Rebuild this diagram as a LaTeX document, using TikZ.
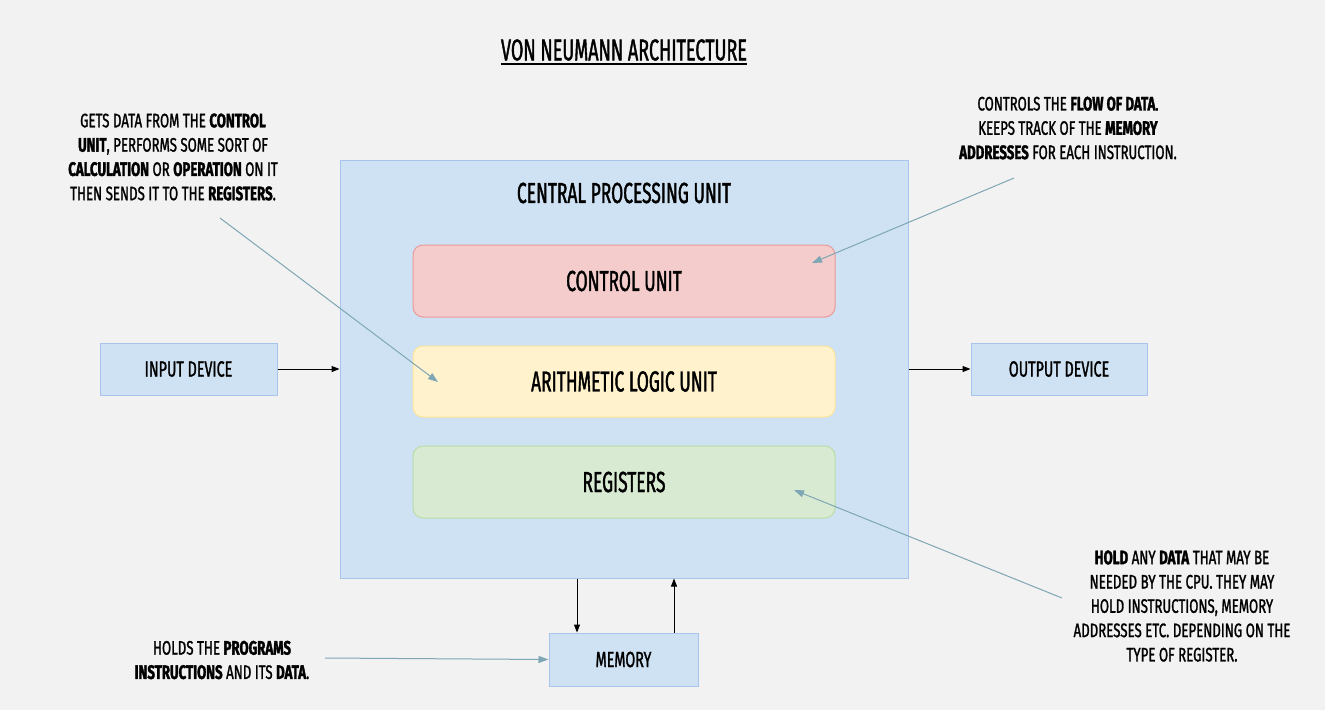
\documentclass[tikz,border=0pt]{standalone}
\usepackage{fontspec}
\setmainfont{Fira Sans}[FakeStretch=0.6, UprightFeatures={FakeBold=1.3}, BoldFeatures={FakeBold=1.6}]
\newfontfamily\notefont{Fira Sans}[FakeStretch=0.68, UprightFeatures={FakeBold=1.3}, BoldFeatures={FakeBold=1.6}]
\newfontfamily\iofont{Fira Sans}[FakeStretch=0.65, UprightFeatures={FakeBold=1.3}, BoldFeatures={FakeBold=1.6}]
\usetikzlibrary{arrows.meta}
\definecolor{bg}{HTML}{F2F2F2}
\definecolor{cpufill}{HTML}{CFE2F3}
\definecolor{cpuline}{HTML}{A9C4EB}
\definecolor{ctrlfill}{HTML}{F4CCCC}
\definecolor{ctrlline}{HTML}{EA9999}
\definecolor{alufill}{HTML}{FFF2CC}
\definecolor{aluline}{HTML}{FFE599}
\definecolor{regfill}{HTML}{D9EAD3}
\definecolor{regline}{HTML}{B9DDA5}
\definecolor{annline}{HTML}{7EA6B4}
\tikzset{
  box/.style={draw=cpuline, fill=cpufill, line width=1pt, inner sep=0pt},
  unit/.style={rounded corners=10pt, line width=1pt, inner sep=0pt,
    minimum width=422pt, minimum height=72pt, font=\fontsize{29}{30}\selectfont},
  lbl/.style={font=\fontsize{29}{30}\selectfont, inner sep=0pt},
  iolbl/.style={font=\iofont\fontsize{22}{24}\selectfont},
  note/.style={align=center, inner sep=0pt, font=\notefont\fontsize{19.5}{24.3}\selectfont},
  arr/.style={-{Triangle[length=8pt,width=6pt]}, line width=1pt, black},
  ann/.style={-{Triangle[length=10pt,width=7pt]}, line width=1pt, annline},
}
\begin{document}
\begin{tikzpicture}[x=1pt,y=-1pt]
\fill[bg] (0,0) rectangle (1325,710);
\useasboundingbox (0,0) rectangle (1325,710);

% title
\node[lbl, font=\fontsize{30}{32}\selectfont] (title) at (624,50) {VON NEUMANN ARCHITECTURE};
\draw[line width=2.2pt] ([yshift=-3pt]title.south west) -- ([yshift=-3pt]title.south east);

% CPU
\node[box, minimum width=568pt, minimum height=418pt] (cpu) at (624,369) {};
\node[lbl] (cpulbl) at (624,193) {CENTRAL PROCESSING UNIT};
\node[unit, draw=ctrlline, fill=ctrlfill] (ctrl) at (624,281) {CONTROL UNIT};
\node[unit, draw=aluline, fill=alufill, minimum height=71pt] (alu) at (624,381.5) {ARITHMETIC LOGIC UNIT};
\node[unit, draw=regline, fill=regfill] (reg) at (624,482) {REGISTERS};

% IO
\node[box, iolbl, minimum width=177pt, minimum height=52pt] (in) at (188.5,369) {INPUT DEVICE};
\node[box, iolbl, minimum width=176pt, minimum height=52pt] (out) at (1059,369) {OUTPUT DEVICE};
\node[box, iolbl, minimum width=149pt, minimum height=53pt] (mem) at (623.5,659.5) {MEMORY};

\draw[arr] (in) -- (cpu);
\draw[arr] (cpu) -- (out);
\coordinate (dn) at (577,0);
\coordinate (up) at (674,0);
\draw[arr] (cpu.south -| dn) -- (mem.north -| dn);
\draw[arr] (mem.north -| up) -- (cpu.south -| up);

% notes
\node[note] (n1) at (173,157) {GETS DATA FROM THE \textbf{CONTROL}\\\textbf{UNIT}, PERFORMS SOME SORT OF\\\textbf{CALCULATION} OR \textbf{OPERATION} ON IT\\THEN SENDS IT TO THE \textbf{REGISTERS}.};
\node[note] (n2) at (1068,128) {CONTROLS THE \textbf{FLOW OF DATA}.\\KEEPS TRACK OF THE \textbf{MEMORY}\\\textbf{ADDRESSES} FOR EACH INSTRUCTION.};
\node[note] (n3) at (1182,606) {\textbf{HOLD} ANY \textbf{DATA} THAT MAY BE\\NEEDED BY THE CPU. THEY MAY\\HOLD INSTRUCTIONS, MEMORY\\ADDRESSES ETC. DEPENDING ON THE\\TYPE OF REGISTER.};
\node[note] (n4) at (222,660) {HOLDS THE \textbf{PROGRAMS}\\\textbf{INSTRUCTIONS} AND ITS \textbf{DATA}.};

\coordinate (a1s) at (220,218); \coordinate (a1e) at (438,382);
\coordinate (a2s) at (1014,178); \coordinate (a2e) at (812,263);
\coordinate (a3s) at (1062,598); \coordinate (a3e) at (794,490);
\coordinate (a4s) at (325,658);
\draw[ann] (a1s) -- (a1e);
\draw[ann] (a2s) -- (a2e);
\draw[ann] (a3s) -- (a3e);
\draw[ann] (a4s) -- (mem.west);
\end{tikzpicture}
\end{document}
